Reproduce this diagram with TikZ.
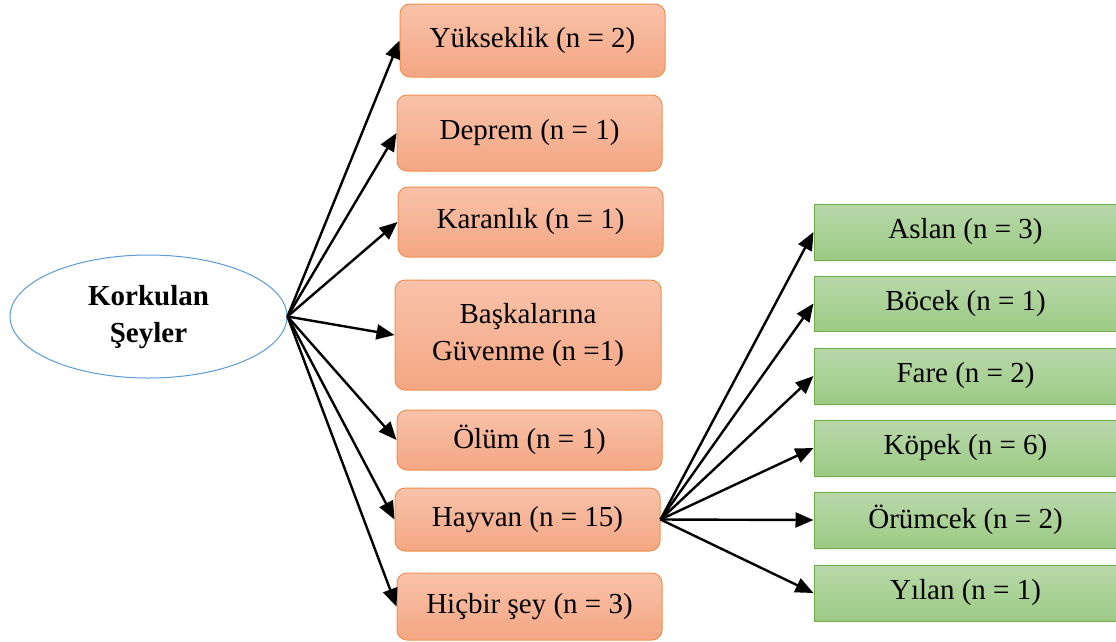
\documentclass[tikz,border=0pt]{standalone}
\usepackage{fontspec}
\setmainfont{Liberation Serif}
\usetikzlibrary{arrows.meta,shapes.geometric}
\definecolor{orTop}{HTML}{F8C2AA}
\definecolor{orBot}{HTML}{F4A683}
\definecolor{orLine}{HTML}{F0904E}
\definecolor{grTop}{HTML}{B8D8AA}
\definecolor{grBot}{HTML}{9CCA84}
\definecolor{grLine}{HTML}{70AD47}
\definecolor{elLine}{HTML}{5B9BD5}
\tikzset{
  obox/.style={draw=orLine, line width=1pt, rounded corners=10pt, top color=orTop, bottom color=orBot, align=center, inner sep=0pt, font=\fontsize{29}{37}\selectfont},
  gbox/.style={draw=grLine, line width=1pt, top color=grTop, bottom color=grBot, align=center, inner sep=0pt, minimum width=303pt, font=\fontsize{29}{37}\selectfont},
  arr/.style={line width=2.4pt, -{Triangle[length=18pt,width=15pt]}}
}
\begin{document}
\begin{tikzpicture}[x=1pt,y=-1pt]
\useasboundingbox (0,0) rectangle (1116,641);
\node[ellipse, draw=elLine, line width=1pt, minimum width=277pt, minimum height=123pt, inner sep=0pt, font=\bfseries\fontsize{29}{37}\selectfont] (ell) at (148.5,316.5) {\raisebox{5pt}{\begin{tabular}{@{}c@{}}Korkulan\\Şeyler\end{tabular}}};
\node[obox, minimum width=265pt, minimum height=73pt] (o1) at (532.5,40.5) {Yükseklik (n = 2)};
\node[obox, minimum width=265pt, minimum height=76pt] (o2) at (529.5,133) {Deprem (n = 1)};
\node[obox, minimum width=265pt, minimum height=70pt] (o3) at (530.5,222) {Karanlık (n = 1)};
\node[obox, minimum width=266pt, minimum height=110pt] (o4) at (528,335) {Başkalarına\\Güvenme (n =1)};
\node[obox, minimum width=265pt, minimum height=60pt] (o5) at (529.5,440) {Ölüm (n = 1)};
\node[obox, minimum width=265pt, minimum height=63pt] (o6) at (527.5,519.5) {Hayvan (n = 15)};
\node[obox, minimum width=265pt, minimum height=67pt] (o7) at (529.5,606.5) {Hiçbir şey (n = 3)};
\node[gbox, minimum height=56pt] (g1) at (965.5,232) {Aslan (n = 3)};
\node[gbox, minimum height=55pt] (g2) at (965.5,303.5) {Böcek (n = 1)};
\node[gbox, minimum height=56pt] (g3) at (965.5,376) {Fare (n = 2)};
\node[gbox, minimum height=56pt] (g4) at (965.5,448) {Köpek (n = 6)};
\node[gbox, minimum height=56pt] (g5) at (965.5,520) {Örümcek (n = 2)};
\node[gbox, minimum height=56pt] (g6) at (965.5,593) {Yılan (n = 1)};
\foreach \t in {o1,o2,o3,o4,o5,o6,o7} \draw[arr] (ell.east) -- (\t.west);
\foreach \t in {g1,g2,g3,g4,g5,g6} \draw[arr] (o6.east) -- (\t.west);
\end{tikzpicture}
\end{document}
